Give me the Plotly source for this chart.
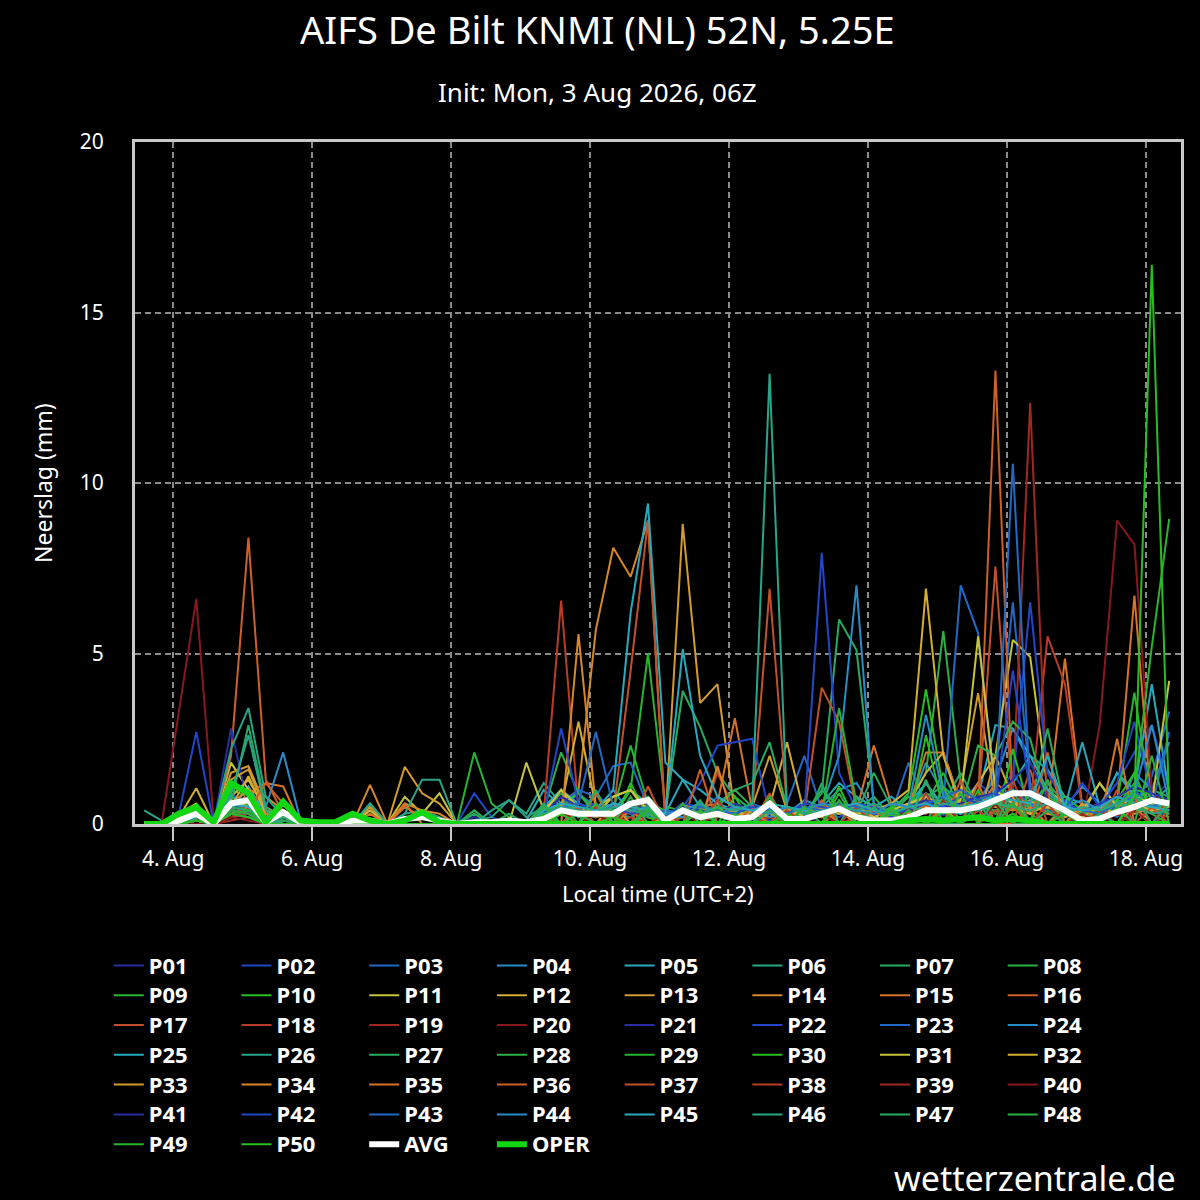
import pandas as pd
import plotly.graph_objects as go

# 6-hourly precipitation (mm), local time, first step 3 Aug 14:00
times = pd.date_range("2026-08-03 14:00", periods=60, freq="6h")

p01 = [0, 0, 0, 0.2, 0, 0.6, 0.3, 0, 0.1, 0, 0, 0, 0, 0, 0, 0, 0, 0, 0, 0.2, 0, 0, 0, 0.3, 0.8, 0.4, 0.6, 0.2, 0.5, 0.3,
       0, 0.3, 0.6, 0.2, 0.4, 0.1, 0.3, 0.1, 0.5, 0.2, 0.3, 0.6, 0.2, 0, 0.4, 0.7, 0.3, 0.9, 0.5, 1.1, 0.6, 1.0, 0.4, 0.2, 0, 0.3, 0.5, 0.8, 0.6, 1.3]
p02 = [0, 0, 0, 0.4, 0, 0.9, 0.5, 0.1, 0, 0, 0, 0, 0, 0, 0, 0, 0, 0, 0, 0.9, 0.2, 0, 0, 0.1, 0.5, 0.3, 0.9, 0.4, 0.6, 0.2,
       0.1, 0.2, 0.4, 0.3, 0.5, 0.2, 0.1, 0.2, 0.4, 0.3, 0.2, 0.5, 0.1, 0, 0.6, 0.9, 0.4, 0.6, 1.2, 0.8, 1.5, 0.7, 0.5, 0.3, 0.4, 0.6, 1.2, 2.1, 2.9, 1.0]
p03 = [0, 0, 0, 0, 0, 0.3, 0.2, 0.1, 0, 0, 0, 0, 0, 0, 0, 0, 0, 0, 0, 0, 0, 0, 0, 0.2, 0.4, 0.9, 0.5, 0.3, 0.2, 0.6,
       0.2, 0.4, 0.3, 0.8, 0.5, 0.3, 0.2, 0.6, 2.0, 0.4, 0.3, 0.2, 0.1, 0.3, 1.8, 0.6, 0.4, 0.9, 0.7, 1.4, 6.5, 1.2, 0.5, 0.7, 0.3, 0.4, 0.2, 0.6, 1.4, 3.3]
p04 = [0, 0, 0, 0.1, 0, 0.5, 0.8, 0.2, 0.3, 0, 0, 0, 0, 0, 0, 0, 0, 0, 0, 0, 0, 0.1, 0, 0.2, 0.6, 0.2, 0.4, 1.0, 0.3, 0.4,
       0.2, 0.6, 0.3, 0.2, 0.3, 0.4, 0.2, 0.3, 0.7, 0.5, 1.0, 1.2, 0.4, 0.2, 0.5, 1.8, 0.9, 0.5, 0.7, 1.3, 2.8, 1.8, 0.9, 0.5, 1.1, 0.6, 0.3, 1.5, 1.0, 2.4]
p05 = [0, 0, 0, 0, 0, 0.4, 1.1, 0.3, 0.2, 0, 0, 0, 0, 0, 0, 0, 0, 0, 0, 0, 0, 0, 0.1, 1.0, 0.5, 0.3, 0.2, 0.4, 1.0, 0.6,
       0.3, 1.3, 1.0, 0.6, 0.4, 0.2, 0.5, 0.2, 0.3, 0.6, 1.2, 0.8, 0.5, 0.4, 0.6, 1.2, 0.5, 0.3, 0.8, 2.9, 2.8, 2.0, 1.6, 0.8, 0.6, 0.4, 1.5, 1.0, 4.1, 0.9]
p06 = [0.4, 0.1, 0, 0.2, 0, 0.7, 0.5, 0.1, 0, 0, 0, 0, 0, 0.6, 0, 0.3, 0.4, 0.2, 0, 0.1, 0.2, 0.7, 0.3, 1.2, 0.6, 0.2, 0.4, 0.3, 0.2, 0.5,
       0.1, 0.3, 0.2, 0.5, 0.4, 0.2, 0.3, 0.5, 0.2, 0.4, 0.6, 0.3, 0.2, 0.5, 0.3, 0.8, 1.1, 0.6, 0.4, 1.0, 0.7, 0.5, 1.2, 0.6, 0.3, 0.2, 0.5, 0.9, 0.6, 1.1]
p07 = [0, 0, 0, 0.3, 0, 0.4, 0.6, 0, 0.2, 0, 0, 0, 0, 0, 0, 0, 0, 0, 0, 0.3, 0, 0, 0, 0.4, 0.9, 0.4, 0.2, 0.3, 0.6, 0.8,
       0.3, 3.9, 2.85, 1.5, 0.8, 0.4, 0.5, 0.2, 0.3, 0.9, 6.0, 5.1, 0.6, 0.3, 0.5, 0.9, 0.7, 0.4, 0.6, 0.5, 0.8, 0.6, 0.4, 0.3, 0.2, 0.5, 0.6, 0.7, 1.0, 0.8]
p08 = [0, 0, 0, 0, 0, 0.3, 0.2, 0, 0, 0, 0, 0, 0, 0, 0, 0, 0, 0, 0, 0, 0, 0, 0, 0.3, 0.6, 0.9, 0.3, 0.2, 0.4, 0.3,
       0.2, 0.4, 0.2, 0.6, 1.0, 0.5, 0.4, 0.3, 0.2, 0.5, 0.3, 0.4, 0.8, 0.2, 0.6, 1.5, 5.66, 1.2, 0.6, 0.9, 0.4, 0.6, 0.8, 0.5, 0.3, 0.2, 0.6, 0.5, 0.9, 0.7]
p09 = [0, 0, 0, 0.1, 0, 0.5, 0.4, 0, 0.1, 0, 0, 0, 0, 0, 0, 0, 0, 0, 0, 2.1, 0.6, 0.2, 0, 0.3, 0.5, 0.9, 0.4, 0.2, 1.0, 5.0,
       0.5, 0.4, 0.3, 0.2, 0.6, 0.3, 0.4, 0.2, 0.3, 0.5, 0.4, 0.3, 0.2, 0.1, 0.5, 0.6, 0.8, 0.4, 0.5, 0.3, 0.6, 0.8, 0.4, 0.3, 0.2, 0.6, 0.8, 1.0, 0.9, 0.5]
p10 = [0, 0, 0.2, 0.4, 0, 1.0, 0.8, 0.1, 0.3, 0, 0, 0, 0, 0, 0, 0, 0, 0, 0, 0, 0, 0, 0, 0.2, 0.4, 0.3, 0.2, 0.5, 0.3, 0.4,
       0.1, 0.2, 0.5, 0.3, 0.2, 0.4, 0.6, 0.3, 0.2, 0.4, 0.5, 0.3, 0.2, 0.4, 0.9, 3.95, 1.0, 0.5, 0.8, 0.6, 0.5, 0.3, 0.6, 0.8, 0.4, 0.3, 0.5, 1.2, 0.8, 0.6]
p11 = [0, 0, 0.3, 0.6, 0, 1.8, 1.0, 0.2, 0.3, 0, 0, 0, 0, 0.4, 0, 0.8, 0.3, 0.9, 0, 0, 0, 0, 1.8, 0.4, 1.0, 0.3, 0.5, 0.8, 1.0, 0.3,
       0.2, 0.6, 0.4, 0.3, 0.2, 0.5, 0.3, 0.4, 0.2, 0.6, 0.3, 0.5, 0.2, 0.4, 0.3, 0.8, 0.6, 0.4, 1.2, 2.0, 5.4, 4.9, 1.0, 0.6, 0.3, 1.2, 0.5, 0.8, 0.6, 0.4]
p12 = [0, 0, 0.2, 1.05, 0, 0.8, 1.3, 0.4, 0.2, 0, 0, 0, 0, 0, 0, 0, 0, 0, 0, 0, 0, 0, 0, 0.2, 0.5, 0.3, 0.4, 0.2, 0.6, 0.3,
       0.1, 0.4, 0.6, 0.3, 0.2, 0.4, 0.5, 2.4, 0.3, 0.2, 0.4, 0.3, 0.5, 0.2, 0.6, 1.5, 2.1, 0.6, 0.4, 0.8, 0.5, 0.7, 0.3, 0.2, 0.4, 0.6, 0.3, 0.5, 0.4, 0.7]
p13 = [0, 0, 0, 0.3, 0, 1.5, 1.7, 0.5, 0.2, 0, 0, 0, 0, 0.5, 0, 1.68, 0.9, 0.6, 0, 0, 0, 0, 0, 0.3, 0.4, 0.5, 0.3, 0.6, 0.4, 0.2,
       0.1, 8.8, 3.55, 4.1, 0.3, 0.5, 2.0, 0.4, 0.3, 0.2, 0.4, 0.6, 0.3, 0.2, 0.5, 0.7, 0.4, 1.0, 3.84, 0.6, 0.5, 0.3, 0.6, 0.4, 0.2, 0.5, 0.3, 0.7, 0.4, 0.6]
p14 = [0, 0, 0, 0.2, 0, 0.6, 1.0, 0.8, 0.4, 0, 0, 0, 0, 1.15, 0, 0.6, 0.4, 0.3, 0, 0, 0, 0, 0, 0.2, 0.6, 1.0, 5.7, 8.1, 7.25, 8.9,
       0.1, 0.4, 0.3, 0.2, 0.5, 0.3, 0.2, 0.4, 0.3, 0.6, 0.3, 0.5, 0.2, 0.4, 0.3, 0.6, 0.5, 0.4, 0.7, 0.5, 0.4, 0.6, 0.3, 0.5, 0.2, 0.4, 0.6, 0.3, 0.5, 0.4]
p15 = [0, 0, 0, 0.1, 0, 0.4, 0.9, 1.2, 1.1, 0, 0, 0, 0, 0.3, 0, 0.5, 0.2, 0, 0, 0, 0, 0, 0, 0.2, 0.4, 0.3, 0.6, 0.2, 0.5, 0.3,
       0.2, 0.3, 0.5, 0.6, 3.1, 0.4, 0.3, 0.2, 0.4, 0.3, 0.5, 0.4, 2.3, 0.6, 0.5, 2.1, 2.1, 0.6, 0.4, 1.2, 0.8, 0.6, 0.4, 4.85, 0.5, 0.3, 0.6, 6.7, 0.4, 0.2]
p16 = [0, 0, 0, 0.2, 0, 2.0, 8.4, 1.3, 0.3, 0, 0, 0, 0, 0, 0, 0, 0, 0, 0, 0, 0, 0, 0, 0.1, 0.3, 0.5, 0.2, 0.4, 0.3, 0.6,
       0.3, 0.2, 0.4, 0.3, 0.2, 0.5, 0.3, 0.4, 0.2, 0.3, 0.4, 0.6, 0.3, 0.2, 0.5, 0.4, 0.6, 0.3, 0.5, 13.3, 0.6, 0.4, 0.5, 0.3, 0.2, 0.4, 0.6, 0.5, 0.3, 0.7]
p17 = [0, 0, 0, 0, 0, 0.3, 0.6, 0.2, 0, 0, 0, 0, 0, 0, 0, 0, 0, 0, 0, 0, 0, 0, 0, 0.2, 0.4, 0.3, 0.5, 0.3, 4.5, 8.9,
       0, 0.2, 0.4, 0.3, 0.2, 0.4, 6.9, 0.5, 0.3, 4.0, 3.0, 0.4, 0.3, 0.2, 0.5, 0.3, 0.6, 0.4, 0.5, 7.55, 0.6, 0.5, 0.4, 0.3, 0.2, 0.5, 0.3, 0.6, 0.4, 0.3]
p18 = [0, 0, 0, 0.1, 0, 0.4, 0.3, 0.1, 0, 0, 0, 0, 0, 0, 0, 0, 0, 0, 0, 0, 0, 0, 0, 0.3, 6.55, 0.4, 0.5, 0, 0.2, 0,
       0.2, 0, 0, 1.5, 0.4, 0, 0.2, 0, 0, 0.5, 0, 0.2, 0, 0, 0.4, 0, 0.3, 0, 0, 0.6, 0.8, 0.5, 5.5, 4.1, 0.4, 0, 0, 0.4, 0, 0.3]
p19 = [0, 0, 0, 0, 0, 0.2, 0.4, 0.1, 0, 0, 0, 0, 0, 0, 0, 0, 0, 0, 0, 0, 0, 0, 0, 0.1, 0, 0.4, 0, 0, 0.5, 0,
       0, 0, 0, 0.4, 0, 0, 0, 0, 0, 0, 0, 0, 0, 0, 0, 0.5, 0, 0, 0, 0.8, 1.0, 12.35, 0.6, 0, 0, 0, 0, 0.4, 0, 0]
p20 = [0, 0, 3.3, 6.6, 0.1, 0.3, 0.2, 0, 0, 0, 0, 0, 0, 0, 0, 0, 0, 0, 0, 0, 0, 0, 0, 0.2, 0, 0, 0.4, 0, 0, 0.5,
       0, 0, 0.4, 0, 0, 0, 0, 0.4, 0, 0, 0, 0, 0.4, 0, 0, 0, 0.5, 0, 0, 0.6, 0, 0.5, 0, 0, 0, 2.9, 8.9, 8.2, 1.0, 0.3]
p21 = [0, 0, 0, 0.3, 0, 2.8, 0.5, 0.2, 0, 0, 0, 0, 0, 0, 0, 0, 0, 0, 0, 0, 0, 0, 0, 0.2, 0.6, 0, 0.3, 0, 0.4, 0,
       0, 0, 0, 0.5, 0, 0, 0, 0, 0.3, 0, 0, 0, 0.5, 0, 0, 0, 0.3, 0, 0.8, 0, 0.9, 0, 0, 0.4, 0, 0, 0.8, 0, 0, 0.5]
p22 = [0, 0, 0.3, 2.7, 0, 0.8, 0.4, 0.1, 0, 0, 0, 0, 0, 0, 0, 0, 0, 0, 0, 0, 0, 0, 0, 0.3, 0.5, 0.4, 0.6, 0.3, 0.5, 0.2,
       0.3, 0.5, 1.2, 2.3, 2.4, 2.5, 0.3, 0.4, 0.3, 7.95, 1.5, 0.4, 0.3, 0.2, 0.5, 0.6, 0.4, 0.3, 0.5, 0.8, 1.2, 6.5, 1.5, 0.6, 0.4, 0.3, 0.5, 0.7, 0.5, 0.6]
p23 = [0, 0, 0, 0.2, 0, 0.5, 0.4, 0.1, 0, 0, 0, 0, 0, 0, 0, 0, 0, 0, 0, 0, 0, 0, 0, 0.4, 0.6, 1.0, 0.8, 1.7, 1.8, 0.5,
       0.3, 0.4, 0.6, 0.3, 0.5, 0.2, 0.4, 0.3, 0.5, 0.4, 0.3, 0.6, 0.4, 0.3, 0.5, 0.8, 0.6, 7.0, 5.6, 0.8, 1.0, 0.6, 0.4, 0.3, 0.2, 0.5, 0.6, 1.0, 0.5, 2.7]
p24 = [0, 0, 0, 0.1, 0, 0.6, 0.5, 0.5, 2.1, 0.1, 0, 0, 0, 0, 0, 0, 0, 0, 0, 0, 0, 0, 0, 0.3, 0.4, 0.3, 0.5, 0.4, 0.6, 0.4,
       0.3, 0.2, 0.5, 0.4, 0.3, 0.5, 0.2, 0.4, 0.3, 0.5, 2.0, 7.0, 0.5, 0.3, 0.4, 0.6, 0.5, 0.4, 0.6, 0.8, 0.6, 0.5, 0.7, 0.4, 0.3, 0.4, 0.6, 0.8, 0.5, 0.6]
p25 = [0, 0, 0, 0.2, 0, 0.8, 0.6, 0.2, 0, 0, 0, 0, 0, 0, 0, 0, 0, 0, 0, 0, 0, 0, 0, 0.5, 1.0, 0.6, 0.4, 1.0, 6.2, 9.4,
       1.8, 1.3, 0.5, 0.3, 0.4, 0.2, 0.5, 0.3, 0.2, 0.4, 0.6, 0.3, 0.5, 0.8, 0.4, 1.2, 0.5, 0.3, 0.6, 0.9, 1.2, 2.0, 1.0, 0.5, 2.4, 0.5, 1.5, 0.8, 0.6, 0.5]
p26 = [0, 0, 0, 0.3, 0, 2.2, 3.4, 0.8, 0.2, 0, 0, 0, 0, 0.6, 0, 0.3, 1.3, 1.3, 0, 0, 0.4, 0.7, 0.2, 0.5, 0, 0, 0.4, 0, 0, 0.3,
       0, 0, 0.6, 0, 0, 0, 0, 0.5, 0, 0, 0, 0.8, 0, 0, 0, 0.5, 0, 0, 0.4, 0, 0.3, 0, 0, 0, 0.6, 0, 0, 0.4, 0, 0]
p27 = [0, 0, 0, 0.2, 0, 0.6, 2.9, 0.5, 0.1, 0, 0, 0, 0, 0, 0, 0, 0, 0, 0, 0, 0, 0, 0, 0.3, 0.5, 0.2, 0.4, 0.3, 0.5, 0.4,
       0.2, 0.3, 0.4, 0.5, 1.0, 1.2, 2.4, 0.5, 0.3, 1.0, 0.5, 0.3, 1.5, 0.5, 0.8, 0.4, 0.6, 1.5, 0.5, 0.4, 0.6, 0.5, 2.8, 0.4, 0.3, 0.5, 0.6, 0.4, 0.5, 0.3]
p28 = [0, 0, 0, 0.1, 0, 0.4, 0.3, 0, 0, 0, 0, 0, 0, 0, 0, 0, 0, 0, 0, 0, 0, 0, 0, 0.4, 2.1, 0.9, 0.3, 0.5, 0.4, 0.3,
       0.2, 0.4, 0.3, 0.2, 0.5, 0.3, 0.4, 0.2, 0.3, 0.4, 0.6, 0.4, 0.5, 0.3, 0.8, 0.6, 1.5, 0.4, 2.3, 2.0, 3.0, 2.5, 0.6, 0.4, 0.3, 0.5, 0.7, 0.5, 0.4, 0.6]
p29 = [0, 0, 0, 0.1, 0, 0.5, 0.6, 0.1, 0, 0, 0, 0, 0, 0, 0, 0, 0, 0, 0, 0, 0, 0, 0, 0.3, 0.6, 0.4, 0.5, 0.4, 2.3, 0.6,
       0.4, 0.3, 0.5, 0.3, 0.2, 0.4, 0.3, 0.2, 0.5, 0.3, 3.4, 0.6, 0.4, 0.3, 0.5, 0.4, 0.3, 0.5, 0.4, 0.6, 0.5, 0.4, 0.6, 0.3, 0.2, 0.4, 0.6, 3.85, 0.5, 0.4]
p30 = [0, 0, 0, 0.1, 0, 0.4, 0.3, 0, 0, 0, 0, 0, 0, 0, 0, 0, 0, 0, 0, 0, 0, 0, 0, 0, 0.6, 0, 0.3, 0, 1.2, 0.2,
       0, 0.5, 0, 0, 0.8, 0, 0, 0.4, 0, 0, 1.1, 0, 0, 0.3, 0, 2.6, 0.4, 0, 1.0, 0, 2.2, 0.3, 0, 0.6, 0, 0, 0.7, 1.5, 0.3, 0]
p31 = [0, 0, 0, 0.2, 0, 0.7, 0.5, 0.2, 0, 0, 0, 0, 0, 0, 0, 0, 0, 0, 0, 0, 0, 0, 0, 0.3, 1.0, 0.5, 0.3, 0.8, 1.0, 0.4,
       0.2, 0.3, 0.5, 0.3, 0.4, 0.2, 0.3, 0.5, 0.2, 0.4, 0.3, 0.5, 0.2, 0.4, 0.6, 0.8, 0.5, 0.7, 5.5, 1.0, 0.6, 0.4, 0.5, 0.3, 0.4, 1.2, 0.5, 0.8, 0.6, 4.2]
p32 = [0, 0, 0, 0.2, 0, 0.5, 1.4, 0.3, 0, 0, 0, 0, 0, 0, 0, 0, 0, 0, 0, 0, 0, 0, 0, 0.3, 0.5, 3.0, 0.5, 0.3, 0.4, 0.3,
       0.2, 0.4, 0.3, 0.5, 0.2, 0.4, 0.3, 0.2, 0.4, 0.3, 0.5, 0.3, 0.4, 0.6, 1.0, 6.9, 2.0, 0.5, 0.4, 0.6, 0.5, 0.3, 0.6, 0.4, 0.2, 0.5, 0.3, 0.6, 0.4, 0.5]
p33 = [0, 0, 0, 0.2, 0, 1.3, 1.6, 0.4, 0, 0, 0, 0, 0, 0, 0, 0, 0, 0, 0, 0, 0, 0, 0, 0.2, 0, 0.5, 0, 0.6, 0, 0,
       0.2, 0, 0, 0, 0, 0.4, 0, 0.5, 0, 0, 0, 0, 0.5, 0, 0, 0, 0.5, 0, 0, 2.0, 0.8, 0, 0, 0, 0.6, 0, 0, 0.8, 0, 0]
p34 = [0, 0, 0, 0.1, 0, 0.5, 0.7, 0.3, 0, 0, 0, 0, 0, 0, 0, 0, 0, 0, 0, 0, 0, 0, 0, 0.3, 0, 5.57, 0.5, 0, 0, 0.5,
       0, 0, 0, 1.7, 0, 0, 0.4, 0, 0, 0, 0.4, 0, 0, 0, 0, 0.5, 0, 0, 0.4, 0, 0.6, 0, 0, 0.5, 0, 0, 0, 0.5, 0, 0]
p35 = [0, 0, 0, 0.1, 0, 0.3, 0.5, 0.2, 0, 0, 0, 0, 0, 0, 0, 0.6, 0, 0, 0, 0, 0, 0, 0, 0.2, 0, 0, 0.5, 0, 0.4, 0,
       0, 0.4, 0, 0, 0, 0, 0, 0.4, 0, 0.5, 0, 0, 0.6, 0, 0, 0, 0.4, 0, 0, 0, 0, 0.5, 0, 0, 0.5, 0, 2.5, 0, 0, 0]
p36 = [0, 0, 0, 0.1, 0, 0.2, 0.4, 1.2, 0.6, 0, 0, 0, 0, 0, 0, 0, 0, 0, 0, 0, 0, 0, 0, 0, 0.3, 0, 0.9, 0, 0, 0.4,
       0, 0, 1.6, 0, 0, 0.5, 0, 0, 0, 0.7, 0, 0, 0.4, 0, 0, 0.6, 0, 0, 1.2, 0, 0.5, 0, 2.1, 0, 0, 0.3, 0, 0.8, 0, 0]
p37 = [0, 0, 0, 0.1, 0, 0.3, 0.2, 0.1, 0, 0, 0, 0, 0, 0, 0, 0, 0, 0, 0, 0, 0, 0, 0, 0, 0, 0.5, 0, 0.3, 0, 1.1,
       0, 0, 0.4, 0, 0, 0, 0.9, 0, 0, 0, 0.6, 0, 0, 0, 0.5, 0, 0, 1.3, 0, 0.4, 0, 1.6, 0, 0.3, 0, 0, 1.0, 0, 0.5, 0]
p38 = [0, 0, 0, 0, 0, 0.2, 0.3, 0.1, 0, 0, 0, 0, 0, 0, 0, 0, 0, 0, 0, 0, 0, 0, 0, 0.2, 0, 0, 0.5, 0, 0, 0,
       0.3, 0, 0, 0.7, 0, 0, 0, 0.4, 0, 0, 0, 0.5, 0, 0, 0, 0.9, 0, 0, 0.4, 0, 1.3, 0, 0.6, 0, 0, 0.4, 0, 0, 0, 0.8]
p39 = [0, 0, 0, 0, 0, 0.1, 0.2, 0, 0, 0, 0, 0, 0, 0, 0, 0, 0, 0, 0, 0, 0, 0, 0, 0, 0.4, 0, 0, 0, 0.6, 0,
       0, 0, 0, 0.3, 0, 0, 0, 0, 0.5, 0, 0, 0, 0, 0.4, 0, 0, 0.7, 0, 0, 0, 0.6, 0, 0, 0, 0.3, 0, 0, 0.4, 0, 0]
p40 = [0, 0, 0, 0, 0, 0.2, 0.1, 0, 0, 0, 0, 0, 0, 0, 0, 0, 0, 0, 0, 0, 0, 0, 0, 0, 0, 0, 0.3, 0, 0, 0,
       0, 0.4, 0, 0, 0, 0, 0, 0, 0, 0.3, 0, 0, 0, 0, 0.5, 0, 0, 0, 0, 0.6, 0, 0, 0.4, 0, 0, 0, 0.3, 0, 0, 0]
p41 = [0, 0, 0, 0.1, 0, 0.4, 0.3, 0, 0, 0, 0, 0, 0, 0, 0, 0, 0, 0, 0, 0, 0, 0, 0, 0.3, 0.8, 0.5, 0.4, 0.3, 0.6, 0.4,
       0.3, 0.5, 0.4, 0.3, 0.6, 0.4, 0.3, 0.5, 0.4, 0.6, 0.5, 0.4, 0.6, 0.3, 0.5, 0.7, 0.5, 0.6, 0.8, 0.9, 1.3, 1.8, 0.7, 0.5, 0.4, 0.6, 0.8, 1.1, 0.9, 0.7]
p42 = [0, 0, 0, 0.2, 0, 0.6, 0.3, 0.1, 0, 0, 0, 0, 0, 0, 0, 0, 0, 0, 0, 0, 0, 0, 0, 0.3, 2.8, 0.6, 0.4, 0.5, 0.3, 0.4,
       0.2, 0.6, 0.5, 0.4, 0.3, 0.5, 0.4, 0.3, 0.6, 0.5, 0.4, 0.6, 0.5, 0.3, 0.4, 0.6, 0.5, 0.8, 0.6, 0.7, 4.5, 0.9, 0.6, 0.4, 1.2, 0.5, 1.2, 3.0, 0.8, 0.6]
p43 = [0, 0, 0, 0.1, 0, 0.3, 0.2, 0, 0, 0, 0, 0, 0, 0, 0, 0, 0, 0, 0, 0, 0, 0, 0, 0.2, 0.5, 0.6, 2.7, 0.5, 0.4, 0.3,
       0.4, 0.3, 0.5, 0.4, 0.3, 0.6, 0.4, 0.3, 0.5, 0.4, 0.6, 0.5, 0.4, 0.3, 0.5, 0.6, 0.8, 1.0, 0.7, 0.9, 10.56, 1.0, 0.6, 0.5, 0.4, 0.3, 0.6, 0.8, 0.5, 0.7]
p44 = [0, 0, 0, 0.1, 0, 0.5, 0.4, 0.2, 0.3, 0, 0, 0, 0, 0, 0, 0, 0, 0, 0, 0, 0, 0, 0, 0.3, 0.5, 0.4, 0.3, 0.6, 0.4, 0.5,
       0.3, 0.4, 0.6, 0.3, 0.5, 0.4, 0.3, 0.5, 0.4, 0.6, 0.5, 0.4, 0.3, 0.6, 0.5, 3.2, 0.8, 0.5, 0.6, 0.7, 1.0, 0.8, 0.6, 0.5, 0.7, 0.4, 0.6, 0.9, 2.9, 0.6]
p45 = [0, 0, 0, 0.1, 0, 0.6, 0.5, 0.2, 0, 0, 0, 0, 0, 0, 0, 0, 0, 0, 0, 0, 0, 0, 0, 0.4, 0.6, 0.5, 0.4, 0.6, 0.5, 0.4,
       0.3, 5.13, 2.0, 0.8, 0.5, 0.4, 0.6, 0.5, 0.4, 0.3, 0.5, 0.6, 0.4, 0.3, 0.5, 0.6, 0.4, 0.5, 0.6, 0.8, 0.7, 0.6, 2.0, 0.5, 0.4, 0.5, 0.8, 0.6, 0.5, 0.4]
p46 = [0, 0, 0, 0.2, 0, 0.9, 2.6, 0.4, 0, 0, 0, 0, 0, 0, 0, 0, 0, 0, 0, 0, 0, 0, 0, 0.3, 0.5, 0.4, 0.3, 0.5, 0.4, 0.3,
       0.2, 0.4, 0.3, 0.5, 0.4, 0.6, 13.2, 0.5, 0.3, 0.4, 0.5, 0.4, 0.6, 0.3, 0.5, 0.4, 0.6, 0.5, 0.4, 0.6, 0.5, 0.4, 0.6, 0.3, 0.5, 0.4, 0.6, 0.5, 0.3, 0.4]
p47 = [0, 0, 0, 0.1, 0, 0.5, 0.4, 0.1, 0, 0, 0, 0, 0, 0, 0, 0, 0, 0, 0, 0.4, 0, 0.3, 0, 0.6, 0, 0, 1.0, 0, 0, 0.5,
       0, 0, 0.7, 0, 0, 0, 0.4, 0, 0, 1.2, 0, 0, 0.5, 0, 0, 1.3, 0, 0, 0.6, 0, 1.0, 0, 0.4, 0, 0, 0.3, 0, 0.9, 0, 0.6]
p48 = [0, 0, 0, 0.1, 0, 0.4, 0.3, 0, 0, 0, 0, 0, 0, 0, 0, 0, 0, 0, 0, 0, 0, 0, 0, 0.5, 0, 0.3, 0, 0, 0.8, 0,
       0, 0.6, 0, 0, 0.3, 0, 0, 0, 0.5, 0, 0.9, 0, 0, 0.4, 0, 0, 1.1, 0, 0, 0.7, 0, 0, 1.3, 0, 0, 0, 0.5, 0, 2.0, 0]
p49 = [0, 0, 0, 0.1, 0, 0.3, 0.4, 0, 0, 0, 0, 0, 0, 0, 0, 0, 0, 0, 0, 0, 0, 0, 0, 0.3, 0, 0, 0.6, 0, 0, 0.4,
       0, 0, 0, 0.5, 0, 0, 0.8, 0, 0, 0, 0.7, 0, 0, 0, 0.4, 0, 0, 0.9, 0, 0, 0.6, 0, 0, 0.3, 0, 0, 0.5, 1.0, 5.2, 8.95]
p50 = [0, 0, 0, 0.1, 0, 0.3, 0.2, 0, 0, 0, 0, 0, 0, 0, 0, 0, 0, 0, 0, 0, 0, 0, 0, 0, 0.3, 0, 0, 0.2, 0, 0,
       0, 0, 0.4, 0, 0, 0, 0, 0.3, 0, 0, 0, 0, 0, 0.5, 0, 0, 0.4, 0, 0, 0, 0.3, 0, 0, 0, 0, 0, 0, 0.8, 16.4, 0.5]

avg = [0, 0, 0.1, 0.3, 0, 0.6, 0.7, 0.05, 0.35, 0.05, 0, 0, 0.1, 0.1, 0, 0.15, 0.2, 0.1, 0, 0.05,
       0.05, 0.1, 0.05, 0.15, 0.4, 0.3, 0.3, 0.3, 0.6, 0.7, 0.1, 0.4, 0.2, 0.3, 0.15, 0.2, 0.6, 0.15, 0.15, 0.3,
       0.45, 0.2, 0.1, 0.1, 0.2, 0.4, 0.4, 0.4, 0.5, 0.7, 0.9, 0.9, 0.65, 0.4, 0.1, 0.15, 0.35, 0.5, 0.7, 0.6]
oper = [0, 0, 0.3, 0.5, 0.05, 1.2, 0.9, 0.05, 0.65, 0.1, 0.05, 0.05, 0.3, 0.1, 0, 0.1, 0.35, 0.05, 0, 0,
        0, 0, 0, 0, 0, 0, 0, 0, 0, 0, 0, 0, 0, 0, 0, 0, 0, 0, 0, 0,
        0, 0, 0, 0, 0.1, 0.15, 0.1, 0.15, 0.2, 0.1, 0.15, 0.1, 0, 0, 0, 0, 0, 0, 0, 0]

members = [p01, p02, p03, p04, p05, p06, p07, p08, p09, p10, p11, p12, p13, p14, p15, p16, p17,
           p18, p19, p20, p21, p22, p23, p24, p25, p26, p27, p28, p29, p30, p31, p32, p33, p34,
           p35, p36, p37, p38, p39, p40, p41, p42, p43, p44, p45, p46, p47, p48, p49, p50]

# colour cycle repeats every 20 members
colors = ['rgb(40,45,160)', 'rgb(35,70,200)', 'rgb(35,105,195)', 'rgb(40,140,200)', 'rgb(40,170,190)',
          'rgb(40,165,135)', 'rgb(40,170,95)', 'rgb(45,175,70)', 'rgb(40,180,50)', 'rgb(40,190,35)',
          'rgb(200,195,60)', 'rgb(210,175,50)', 'rgb(210,155,45)', 'rgb(215,135,40)', 'rgb(215,115,40)',
          'rgb(205,95,40)', 'rgb(195,80,45)', 'rgb(185,60,40)', 'rgb(160,40,35)', 'rgb(135,25,30)']

FONT = 'Noto Sans'


def leg(name):
    return "<span style='font-size:22px'>" + name + "</span>"


fig = go.Figure()

for i, vals in enumerate(members):
    fig.add_trace(go.Scatter(
        x=times, y=vals, mode='lines', name=leg('P%02d' % (i + 1)),
        line=dict(color=colors[i % 20], width=2)
    ))

fig.add_trace(go.Scatter(x=times, y=avg, mode='lines', name=leg('AVG'),
                         line=dict(color='white', width=6)))
fig.add_trace(go.Scatter(x=times, y=oper, mode='lines', name=leg('OPER'),
                         line=dict(color='rgb(20,215,20)', width=6)))

fig.update_layout(
    width=1200, height=1200,
    paper_bgcolor='black',
    plot_bgcolor='black',
    font=dict(family=FONT, color='white', size=21),
    margin=dict(l=135, r=19, t=142, b=376, autoexpand=False),
    xaxis=dict(
        type='date',
        range=['2026-08-03 10:50', '2026-08-18 12:05'],
        tick0='2026-08-04', dtick=2 * 86400000,
        tickformat='%-d. %b',
        ticks='outside', ticklen=14, tickwidth=2, tickcolor='rgb(200,200,200)',
        showgrid=True, gridcolor='rgb(140,140,140)', gridwidth=1.5, griddash='6px,4px',
        showline=True, linecolor='rgb(200,200,200)', linewidth=3, mirror=True,
        zeroline=False, tickfont=dict(size=21),
    ),
    yaxis=dict(
        range=[0, 20], tickvals=[0, 5, 10, 15, 20],
        ticks='outside', ticklen=24, tickcolor='rgba(0,0,0,0)',
        showgrid=True, gridcolor='rgb(140,140,140)', gridwidth=1.5, griddash='6px,4px',
        showline=True, linecolor='rgb(200,200,200)', linewidth=3, mirror=True,
        zeroline=False, tickfont=dict(size=21),
    ),
    showlegend=True,
    legend=dict(
        orientation='h', x=0.4635, xanchor='center', y=-0.1783, yanchor='top',
        entrywidth=82.7, entrywidthmode='pixels',
        font=dict(family=FONT, size=20.6, color='white', weight='bold'),
        bgcolor='rgba(0,0,0,0)', traceorder='normal',
    ),
)

annotations = [
    dict(xref='paper', yref='paper', x=0.4426, y=1.1657, text='AIFS De Bilt KNMI (NL) 52N, 5.25E',
         font=dict(family=FONT, size=38, color='white'), showarrow=False, xanchor='center', yanchor='middle'),
    dict(xref='paper', yref='paper', x=0.4426, y=1.0733, text='Init: Mon, 3 Aug 2026, 06Z',
         font=dict(family=FONT, size=26, color='white'), showarrow=False, xanchor='center', yanchor='middle'),
    dict(xref='paper', yref='paper', x=-0.088, y=0.5, text='Neerslag (mm)', textangle=-90,
         font=dict(family=FONT, size=23, color='white'), showarrow=False, xanchor='center', yanchor='middle'),
    dict(xref='paper', yref='paper', x=0.5, y=-0.101, text='Local time (UTC+2)',
         font=dict(family=FONT, size=22, color='white'), showarrow=False, xanchor='center', yanchor='middle'),
    dict(xref='paper', yref='paper', x=0.997, y=-0.519, text='wetterzentrale.de',
         font=dict(family=FONT, size=34, color='white'), showarrow=False, xanchor='right', yanchor='middle'),
]
fig.update_layout(annotations=annotations)

# drop the default page margin so the figure sits at the window's corner
fig.write_html('out.html', config={'displayModeBar': False},
               post_script="document.body.style.margin='0px';")
